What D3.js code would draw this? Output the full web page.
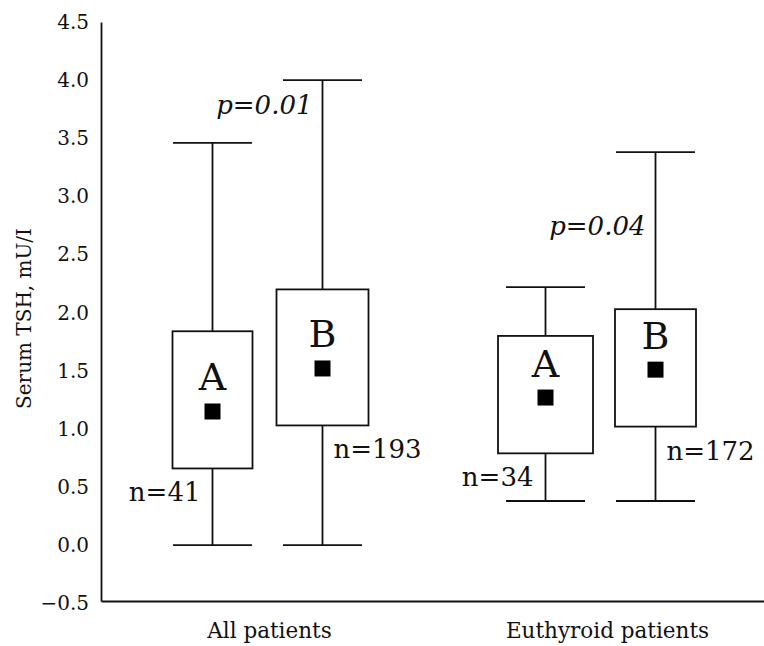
<!DOCTYPE html>
<html>
<head>
<meta charset="utf-8">
<script src="https://cdn.jsdelivr.net/npm/d3@7"></script>
<style>
  body { margin: 0; background: #fff; }
  svg text { font-family: "DejaVu Serif", serif; fill: #111; }
</style>
</head>
<body>
<svg id="chart" width="764" height="646"></svg>
<script>
// data
var groups = ["All patients", "Euthyroid patients"];
var subgroups = ["A", "B"];
var whiskerLow  = [0.0, 0.0, 0.38, 0.38];
var q1          = [0.66, 1.03, 0.79, 1.02];
var q3          = [1.84, 2.20, 1.80, 2.03];
var whiskerHigh = [3.46, 4.00, 2.22, 3.38];
var means       = [1.15, 1.52, 1.27, 1.51];
var nCounts     = [41, 193, 34, 172];
var pValues     = ["0.01", "0.04"];
var pLabelAt    = [3.71, 2.67]; // where the p text sits, in TSH units
var yTicks      = [-0.5, 0, 0.5, 1, 1.5, 2, 2.5, 3, 3.5, 4, 4.5];

// layout
var boxWidth = [80, 92, 95, 81];
var capWidth = 79;
var markSize = 16;
var groupLabelShift = [2, 7];

var svg = d3.select('#chart');

var y = d3.scaleLinear()
    .domain([-0.48, 4.5])
    .range([601, 22]);

var x0 = d3.scaleBand()
    .domain(groups)
    .range([101, 767]);

var x1 = d3.scalePoint()
    .domain(subgroups)
    .range([0, x0.bandwidth()])
    .padding(1.0136);

var boxes = [];
groups.forEach(function(g, gi) {
  subgroups.forEach(function(s, si) {
    var i = gi * 2 + si;
    boxes.push({
      group: g, sub: s, i: i,
      cx: x0(g) + x1(s),
      lo: whiskerLow[i], q1: q1[i], q3: q3[i], hi: whiskerHigh[i],
      mean: means[i], n: nCounts[i]
    });
  });
});

// axes
var yAxis = d3.axisLeft(y)
    .tickValues(yTicks)
    .tickFormat(d3.format(".1f"))
    .tickSize(0)
    .tickSizeOuter(0)
    .tickPadding(12);

var gy = svg.append('g')
    .attr('transform', 'translate(101,0)')
    .call(yAxis);
gy.select('.domain').attr('stroke', '#111').attr('stroke-width', 1.8);
gy.selectAll('text').style('font-size', '20px').attr('fill', '#111');

var xAxis = d3.axisBottom(x0)
    .tickSize(0)
    .tickSizeOuter(0)
    .tickPadding(22);

var gx = svg.append('g')
    .attr('transform', 'translate(0,' + y(-0.48) + ')')
    .call(xAxis);
gx.select('.domain').attr('stroke', '#111').attr('stroke-width', 1.8);
gx.selectAll('text')
    .style('font-size', '21.5px')
    .attr('fill', '#111')
    .attr('dx', function(d, i) { return groupLabelShift[i]; });

svg.append('text')
    .attr('transform', 'translate(31,' + y(1.95) + ') rotate(-90)')
    .attr('text-anchor', 'middle')
    .style('font-size', '20px')
    .text('Serum TSH, mU/I');

// whiskers and boxes
var b = svg.append('g')
    .selectAll('g')
    .data(boxes)
    .enter()
    .append('g')
    .attr('stroke', '#111')
    .attr('stroke-width', 1.8);

b.append('line')
    .attr('x1', function(d) { return d.cx; })
    .attr('x2', function(d) { return d.cx; })
    .attr('y1', function(d) { return y(d.lo); })
    .attr('y2', function(d) { return y(d.hi); });

b.append('line')
    .attr('x1', function(d) { return d.cx - capWidth / 2; })
    .attr('x2', function(d) { return d.cx + capWidth / 2; })
    .attr('y1', function(d) { return y(d.hi); })
    .attr('y2', function(d) { return y(d.hi); });

b.append('line')
    .attr('x1', function(d) { return d.cx - capWidth / 2; })
    .attr('x2', function(d) { return d.cx + capWidth / 2; })
    .attr('y1', function(d) { return y(d.lo); })
    .attr('y2', function(d) { return y(d.lo); });

b.append('rect')
    .attr('x', function(d) { return d.cx - boxWidth[d.i] / 2; })
    .attr('width', function(d) { return boxWidth[d.i]; })
    .attr('y', function(d) { return y(d.q3); })
    .attr('height', function(d) { return y(d.q1) - y(d.q3); })
    .attr('fill', '#fff');

b.append('rect')
    .attr('x', function(d) { return d.cx - markSize / 2; })
    .attr('y', function(d) { return y(d.mean) - markSize / 2; })
    .attr('width', markSize)
    .attr('height', markSize)
    .attr('fill', '#000')
    .attr('stroke', 'none');

// A / B letters above the mean
svg.append('g')
    .selectAll('text')
    .data(boxes)
    .enter()
    .append('text')
    .attr('x', function(d) { return d.cx; })
    .attr('y', function(d) { return y(d.mean) - 21; })
    .attr('text-anchor', 'middle')
    .style('font-size', '38px')
    .text(function(d) { return d.sub; });

// n labels
svg.append('g')
    .selectAll('text')
    .data(boxes)
    .enter()
    .append('text')
    .attr('x', function(d) { return d.sub == "A" ? d.cx - 12 : d.cx + 11; })
    .attr('y', function(d) { return y(d.q1) + 33; })
    .attr('text-anchor', function(d) { return d.sub == "A" ? 'end' : 'start'; })
    .style('font-size', '26px')
    .text(function(d) { return 'n=' + d.n; });

// p values, left of the B whisker
svg.append('g')
    .selectAll('text')
    .data(groups)
    .enter()
    .append('text')
    .attr('x', function(g) { return x0(g) + x1("B") - 10; })
    .attr('y', function(g, i) { return y(pLabelAt[i]); })
    .attr('text-anchor', 'end')
    .style('font-size', '26px')
    .style('font-style', 'italic')
    .text(function(g, i) { return 'p=' + pValues[i]; });
</script>
</body>
</html>
